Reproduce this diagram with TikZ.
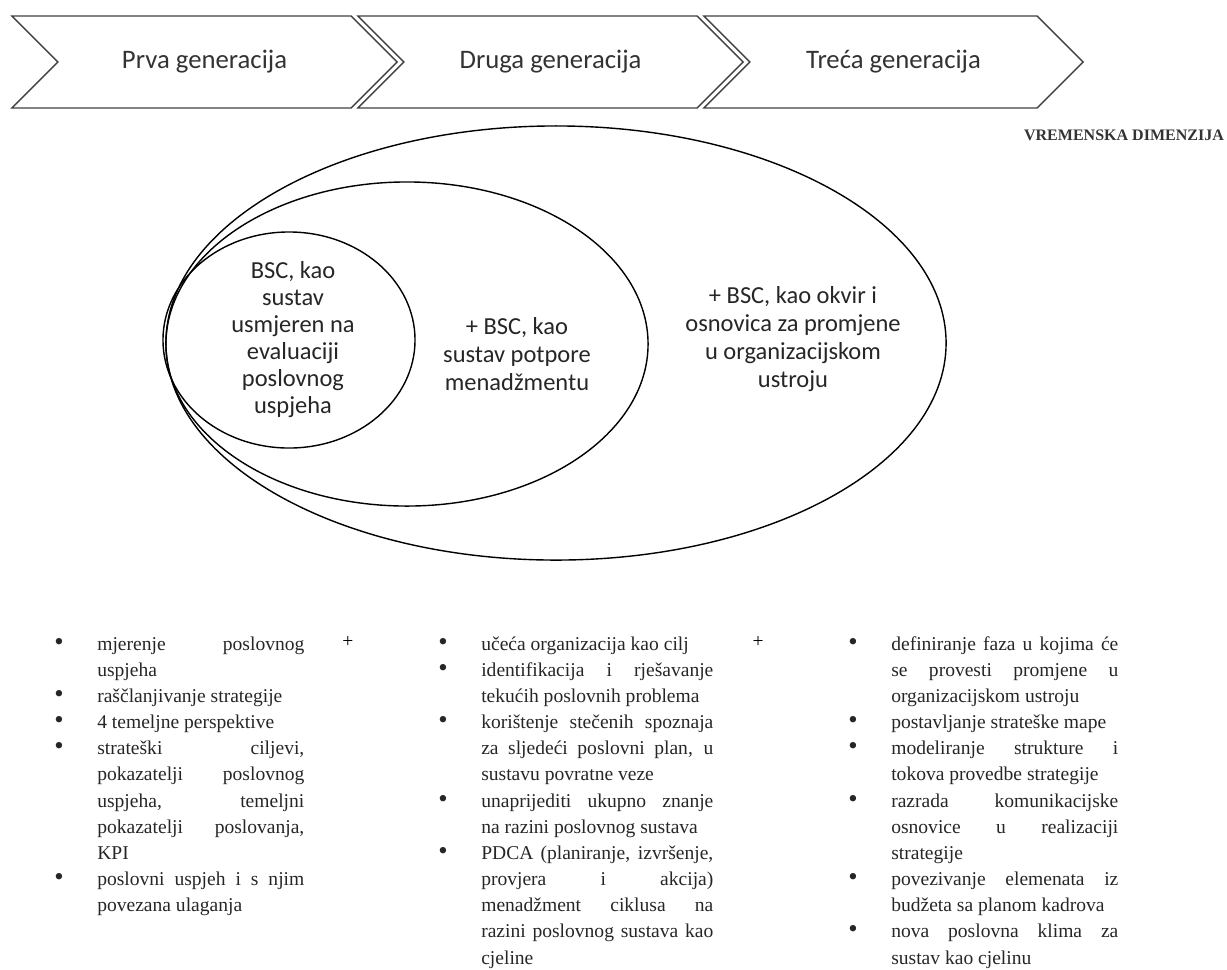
\documentclass[tikz,border=0pt]{standalone}
\usepackage{fontspec}
\setmainfont{Liberation Serif}
\newfontfamily\calibri{Carlito}
\usetikzlibrary{shapes.symbols,shapes.geometric}

\tolerance=9999
\hbadness=10000
\hyphenpenalty=10000
\exhyphenpenalty=10000

% hanging bullet item for the lists below the ellipses
\newlength\bullind
\setlength\bullind{1.075cm}
\newcommand\bullitem[1]{\par\noindent\hangindent=\bullind\hangafter=1\makebox[\bullind][l]{{\fontsize{19}{18.6}\selectfont\textbullet}}#1\par}

\tikzset{
  gen/.style={signal, signal from=west, signal to=east, signal pointer angle=90,
    draw=black!75, line width=1pt, minimum height=2.3cm, inner sep=0pt,
    font=\calibri\fontsize{19}{23}\selectfont, text=black!80},
  zone/.style={ellipse, draw, line width=1pt, inner sep=0pt},
  zonetext/.style={align=center, inner sep=0pt, text=black!85,
    font=\calibri\fontsize{17.4}{19.9}\selectfont},
  bsclist/.style={anchor=base west, inner sep=0pt, text width=#1, align=justify,
    text=black!85, font=\fontsize{13.9}{18.6}\selectfont},
}

\begin{document}
\begin{tikzpicture}[x=0.025cm, y=-0.025cm]
    \useasboundingbox (0,0) rectangle (1227,969);

    % Generations (top)
    \node[gen, minimum width=9.625cm] (prva)  at (204.5,62) {Prva generacija};
    \node[gen, minimum width=9.625cm] (druga) at (550.5,62) {Druga generacija};
    \node[gen, minimum width=9.475cm] (treca) at (893.5,62) {Treća generacija};
    \node[font=\bfseries\fontsize{11.4}{13}\selectfont, text=black!80] (vrijeme) at (1124,135) {VREMENSKA DIMENZIJA};

    % Nested ellipses
    \node[zone, minimum width=19.5cm, minimum height=10.85cm] (zona3) at (556,343) {};
    \node[zone, minimum width=12.05cm, minimum height=8.1cm] (zona2) at (407,344) {};
    \node[zone, minimum width=6.3cm, minimum height=5.4cm] (zona1) at (289,340) {};

    \node[zonetext, font=\calibri\fontsize{17.4}{19.2}\selectfont] (bsc1) at (293,340)
        {BSC, kao\\sustav\\usmjeren na\\evaluaciji\\poslovnog\\uspjeha};
    \node[zonetext] (bsc2) at (517,354) {+ BSC, kao\\sustav potpore\\menadžmentu};
    \node[zonetext] (bsc3) at (793,339) {+ BSC, kao okvir i\\osnovica za promjene\\u organizacijskom\\ustroju};

    % Lists (bottom)
    \node[bsclist=6.25cm] (lista1) at (54,624) {%
        \bullitem{mjerenje poslovnog\linebreak uspjeha}
        \bullitem{raščlanjivanje strategije}
        \bullitem{4 temeljne perspektive}
        \bullitem{strateški ciljevi,\linebreak pokazatelji poslovnog\linebreak uspjeha, temeljni\linebreak pokazatelji poslovanja,\linebreak KPI}
        \bullitem{poslovni uspjeh i s njim\linebreak povezana ulaganja}};
    \node[bsclist=6.875cm] (lista2) at (438,624) {%
        \bullitem{učeća organizacija kao cilj}
        \bullitem{identifikacija i rješavanje\linebreak tekućih poslovnih problema}
        \bullitem{korištenje stečenih spoznaja\linebreak za sljedeći poslovni plan, u\linebreak sustavu povratne veze}
        \bullitem{unaprijediti ukupno znanje\linebreak na razini poslovnog sustava}
        \bullitem{PDCA (planiranje, izvršenje,\linebreak provjera i akcija)\linebreak menadžment ciklusa na\linebreak razini poslovnog sustava kao\linebreak cjeline}};
    \node[bsclist=6.75cm] (lista3) at (848,624) {%
        \bullitem{definiranje faza u kojima će\linebreak se provesti promjene u\linebreak organizacijskom ustroju}
        \bullitem{postavljanje strateške mape}
        \bullitem{modeliranje strukture i\linebreak tokova provedbe strategije}
        \bullitem{razrada komunikacijske\linebreak osnovice u realizaciji\linebreak strategije}
        \bullitem{povezivanje elemenata iz\linebreak budžeta sa planom kadrova}
        \bullitem{nova poslovna klima za\linebreak sustav kao cjelinu}};

    \node[font=\fontsize{13.9}{16}\selectfont] (plus1) at (348,642) {+};
    \node[font=\fontsize{13.9}{16}\selectfont] (plus2) at (758,642) {+};
\end{tikzpicture}
\end{document}
